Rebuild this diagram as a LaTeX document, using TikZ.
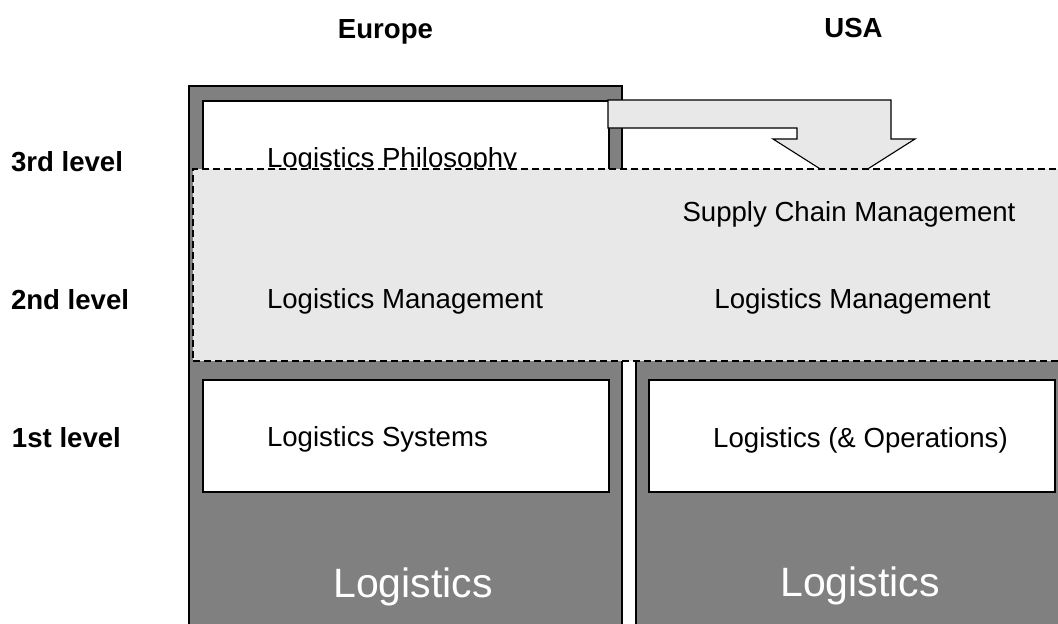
\documentclass[tikz,border=0pt]{standalone}
\usepackage{fontspec}
\setmainfont{Liberation Sans}
\definecolor{colgray}{HTML}{808080}
\definecolor{bandgray}{HTML}{E8E8E8}
\begin{document}
\begin{tikzpicture}[x=1pt,y=-1pt,
  every node/.style={inner sep=0pt, outer sep=0pt},
  col/.style={draw=black, fill=colgray, line width=1.1pt, anchor=north west},
  wbox/.style={draw=black, fill=white, line width=1.1pt, anchor=north west},
  band/.style={draw=black, fill=bandgray, line width=1.1pt, dash pattern=on 7pt off 4pt, anchor=north west},
  arrowshape/.style={draw=black, fill=bandgray, line width=1.1pt, line join=miter},
  lbl/.style={font=\fontsize{27.6}{33}\selectfont},
  head/.style={font=\fontsize{27.6}{33}\selectfont\bfseries},
  big/.style={font=\fontsize{41}{48}\selectfont, text=white},
]
\useasboundingbox (0,0) rectangle (1058,624);
\fill[white] (0,0) rectangle (1058,624);
\clip (0,0) rectangle (1058,624);

% headers
\node[head, anchor=base] (europe) at (385.5,38) {Europe};
\node[head, anchor=base] (usa) at (853.5,37) {USA};

% level labels
\node[head, anchor=base west] (l3) at (11,171) {3rd level};
\node[head, anchor=base west] (l2) at (11,309) {2nd level};
\node[head, anchor=base west] (l1) at (12,447) {1st level};

% Europe column
\node[col, minimum width=433, minimum height=560] (eu) at (189,86) {};
\node[wbox, minimum width=406, minimum height=120] (phil) at (203,101) {};
\node[lbl, anchor=base west] (tphil) at (267,167) {Logistics Philosophy};

% bent arrow from Europe to USA
\draw[arrowshape] (608,100) -- (891,100) -- (891,139) -- (915,139) -- (844,184)
  -- (773,139) -- (797,139) -- (797,128) -- (608,128) -- cycle;

% USA column
\node[col, minimum width=440, minimum height=400] (us) at (636,240) {};

% dashed 2nd/3rd level band
\node[band, minimum width=880, minimum height=192] (bandbox) at (193,169) {};
\node[lbl, anchor=base] (tscm) at (849,221) {Supply Chain Management};
\node[lbl, anchor=base west] (tlmeu) at (267,308) {Logistics Management};
\node[lbl, anchor=base] (tlmus) at (852.5,308) {Logistics Management};

% 1st level boxes
\node[wbox, minimum width=406, minimum height=112] (syseu) at (203,380) {};
\node[wbox, minimum width=406, minimum height=112] (sysus) at (649,380) {};
\node[lbl, anchor=base west] (tsyseu) at (267,446) {Logistics Systems};
\node[lbl, anchor=base] (tsysus) at (860.5,447) {Logistics (\& Operations)};

% big labels
\node[big, anchor=base] (bigeu) at (413,597) {Logistics};
\node[big, anchor=base] (bigus) at (860,596) {Logistics};
\end{tikzpicture}
\end{document}
